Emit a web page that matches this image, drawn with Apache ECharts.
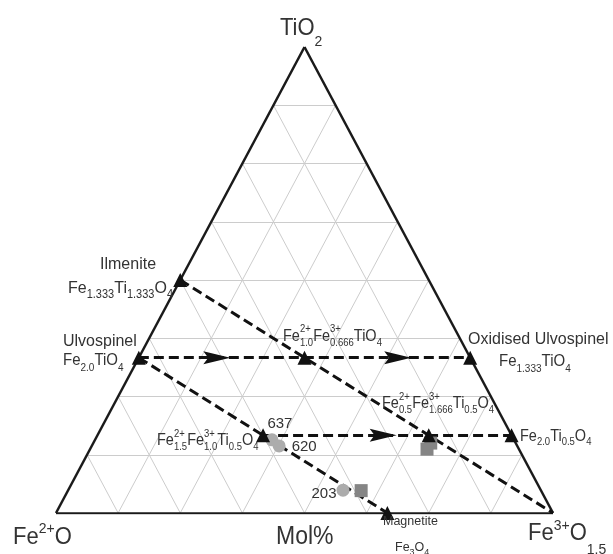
<!DOCTYPE html>
<html><head><meta charset="utf-8">
<script src="https://cdn.jsdelivr.net/npm/echarts@6/dist/echarts.min.js"></script>
<style>html,body{margin:0;padding:0;background:#fff}#c{width:613px;height:554px}</style>
</head><body><div id="c"></div>
<script>
// Ternary compositions (mole fractions): Fe2+O, Fe3+O1.5, TiO2
const endmembers = ['Ilmenite','Ulvospinel','Fe1.0Fe0.666TiO4','Oxidised Ulvospinel','Fe1.5Fe1.0Ti0.5O4','Fe0.5Fe1.666Ti0.5O4','Fe2.0Ti0.5O4','Magnetite'];
const endFeO15 = [0, 0, 0.3333, 0.6667, 0.3333, 0.6667, 0.8333, 0.6667];
const endTiO2  = [0.5, 0.3333, 0.3333, 0.3333, 0.1667, 0.1667, 0.1667, 0];

const vertexNames = ['Fe2+O','Fe3+O1.5','TiO2'];
const vertexFeO15 = [0, 1, 0];
const vertexTiO2  = [0, 0, 1];

const trendFrom = ['Ilmenite','Ulvospinel','Ulvospinel','Fe1.5Fe1.0Ti0.5O4'];
const trendTo   = ['Fe3+O1.5','Oxidised Ulvospinel','Magnetite','Fe2.0Ti0.5O4'];

const arrowFeO15 = [0.157, 0.521, 0.575];
const arrowTiO2  = [0.3333, 0.3333, 0.1667];

const sampleIds   = ['637','620','203'];
const circleFeO15 = [0.356, 0.377, 0.553];
const circleTiO2  = [0.157, 0.144, 0.049];
const squareFeO15 = [0.679, 0.678, 0.590];
const squareTiO2  = [0.150, 0.137, 0.048];

const gridTicks = [0.125, 0.25, 0.375, 0.5, 0.625, 0.75, 0.875];

// ---- helpers ----
function toXY(b, c) { return [b + c / 2, c]; }
function comp(name) {
  let i = endmembers.indexOf(name);
  if (i >= 0) return toXY(endFeO15[i], endTiO2[i]);
  i = vertexNames.indexOf(name);
  return toXY(vertexFeO15[i], vertexTiO2[i]);
}
const FONT = "'Liberation Sans', Arial, sans-serif";
const TXT = '#333333';
const SY = 1.085; // vertical stretch of the reference

const gridData = [];
gridTicks.forEach(t => {
  gridData.push({coords: [toXY(0, t), toXY(1 - t, t)]});
  gridData.push({coords: [toXY(t, 0), toXY(t, 1 - t)]});
  gridData.push({coords: [toXY(1 - t, 0), toXY(0, 1 - t)]});
});
const outline = [
  {coords: [comp('Fe2+O'), comp('Fe3+O1.5')]},
  {coords: [comp('Fe3+O1.5'), comp('TiO2')]},
  {coords: [comp('TiO2'), comp('Fe2+O')]}
];
const trendData = trendFrom.map((f, i) => ({coords: [comp(f), comp(trendTo[i])]}));

// ---- text with sub/superscripts ----
const mctx = document.createElement('canvas').getContext('2d');
function tw(t, size) { mctx.font = size + 'px ' + FONT; return mctx.measureText(t).width; }
function txt(x, y, t, size) {
  return {type: 'text', x: x, y: y, scaleY: SY, z: 20, silent: true,
    style: {text: t, x: 0, y: 0, font: size + 'px ' + FONT, fill: TXT,
      align: 'left', verticalAlign: 'middle', textAlign: 'left', textVerticalAlign: 'middle'}};
}
function label(x, y, markup, font, sub, supOff, subOff) {
  const segs = [];
  markup.replace(/\{(\w)\|([^}]*)\}/g, (s, k, t) => { segs.push([k, t]); return s; });
  const out = [];
  let cx = x, pend = 0;
  segs.forEach(([k, t]) => {
    if (k === 'm') { out.push(txt(cx, y, t, font)); cx += tw(t, font); }
    else if (k === 'b') { out.push(txt(cx, y + subOff, t, sub)); cx += Math.max(tw(t, sub), pend); pend = 0; }
    else if (k === 'p') { out.push(txt(cx, y - supOff, t, sub)); cx += tw(t, sub); }
    else if (k === 'q') { out.push(txt(cx, y - supOff, t, sub)); pend = tw(t, sub); }
  });
  return out;
}

const labels = [].concat(
  label(280, 28, '{m|TiO}{b|2}', 22, 14, 8, 14),
  label(13, 537.5, '{m|Fe}{p|2+}{m|O}', 22, 14, 8.5, 8),
  label(276, 537, '{m|Mol%}', 23, 14, 8, 8),
  label(528, 533.5, '{m|Fe}{p|3+}{m|O}{b|1.5}', 22, 14, 7.5, 16),
  label(100, 264, '{m|Ilmenite}', 16, 11, 7, 7),
  label(68, 288, '{m|Fe}{b|1.333}{m|Ti}{b|1.333}{m|O}{b|4}', 16, 11, 7, 7),
  label(63, 341, '{m|Ulvospinel}', 16, 11, 7, 7),
  label(63, 361, '{m|Fe}{b|2.0}{m|TiO}{b|4}', 15, 10, 7, 7),
  label(283, 337, '{m|Fe}{q|2+}{b|1.0}{m|Fe}{q|3+}{b|0.666}{m|TiO}{b|4}', 14.5, 9.5, 7.5, 6.5),
  label(468, 339, '{m|Oxidised Ulvospinel}', 16, 11, 7, 7),
  label(499, 362, '{m|Fe}{b|1.333}{m|TiO}{b|4}', 15, 10, 7, 7.5),
  label(382, 404, '{m|Fe}{q|2+}{b|0.5}{m|Fe}{q|3+}{b|1.666}{m|Ti}{b|0.5}{m|O}{b|4}', 14.5, 9.5, 7, 6),
  label(520, 436.5, '{m|Fe}{b|2.0}{m|Ti}{b|0.5}{m|O}{b|4}', 14.5, 9.5, 7, 6),
  label(157, 441, '{m|Fe}{q|2+}{b|1.5}{m|Fe}{q|3+}{b|1.0}{m|Ti}{b|0.5}{m|O}{b|4}', 14.5, 9.5, 7, 6),
  label(383, 521, '{m|Magnetite}', 12.5, 9, 6, 6),
  label(395, 547, '{m|Fe}{b|3}{m|O}{b|4}', 12.5, 9, 6, 5)
);

const sampleLabelOffsets = [[8, -16], [25, 1], [-19, 4]];

const chart = echarts.init(document.getElementById('c'), null, {renderer: 'canvas'});
chart.setOption({
  animation: false,
  backgroundColor: '#ffffff',
  grid: {left: 56, right: 60, top: 47, bottom: 41},
  xAxis: {type: 'value', min: 0, max: 1, show: false},
  yAxis: {type: 'value', min: 0, max: 1, show: false},
  graphic: labels,
  series: [
    {type: 'lines', coordinateSystem: 'cartesian2d', data: gridData, silent: true, z: 1,
     symbol: ['none', 'none'], lineStyle: {color: '#cccccc', width: 1, opacity: 1}},
    {type: 'lines', coordinateSystem: 'cartesian2d', data: outline, silent: true, z: 2,
     symbol: ['none', 'none'], lineStyle: {color: '#1a1a1a', width: 2.5, opacity: 1}},
    {type: 'lines', coordinateSystem: 'cartesian2d', data: trendData, silent: true, z: 3,
     symbol: ['none', 'none'], lineStyle: {color: '#111111', width: 3, opacity: 1, type: [10, 5]}},
    {type: 'scatter', z: 4, silent: true, symbol: 'rect', symbolSize: 13,
     itemStyle: {color: '#858585', opacity: 1},
     data: squareFeO15.map((b, i) => toXY(b, squareTiO2[i]))},
    {type: 'scatter', z: 5, silent: true, symbol: 'circle', symbolSize: 13,
     itemStyle: {color: '#acacac', opacity: 1},
     data: circleFeO15.map((b, i) => ({
       value: toXY(b, circleTiO2[i]),
       label: {show: true, formatter: sampleIds[i], position: 'inside', offset: sampleLabelOffsets[i],
               color: TXT, fontSize: 15, fontFamily: FONT}
     }))},
    {type: 'scatter', z: 6, silent: true, symbol: 'triangle', symbolSize: 14,
     itemStyle: {color: '#111111', opacity: 1},
     data: endmembers.map(n => comp(n))},
    {type: 'scatter', z: 7, silent: true, symbol: 'path://M0,0L28,7L0,14L5,7Z', symbolSize: [27, 13],
     itemStyle: {color: '#111111', opacity: 1},
     data: arrowFeO15.map((b, i) => toXY(b, arrowTiO2[i]))}
  ]
});
</script></body></html>
